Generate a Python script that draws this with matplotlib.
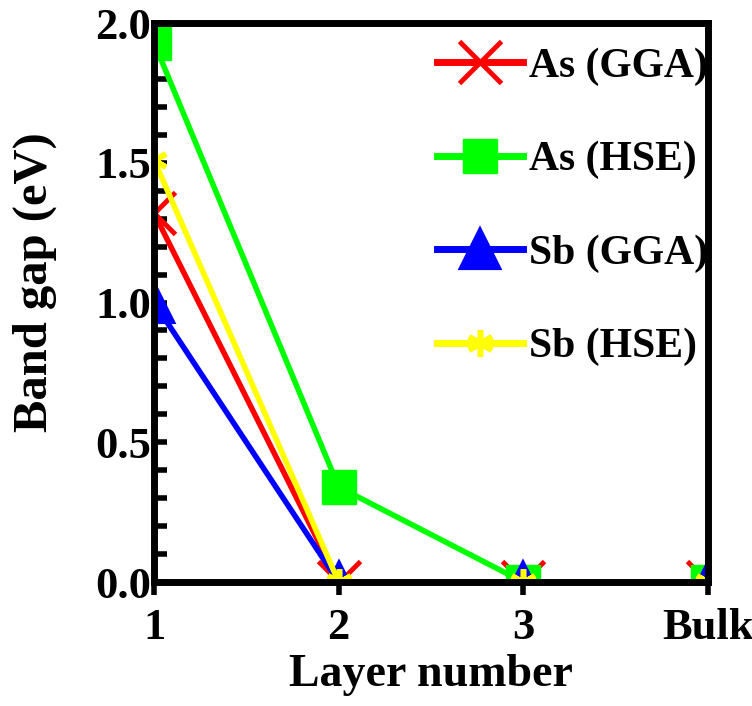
import numpy as np
import matplotlib
matplotlib.use("Agg")
import matplotlib.pyplot as plt
from matplotlib.ticker import MultipleLocator, FormatStrFormatter

# data
layers = [1, 2, 3, 4]
layer_labels = ["1", "2", "3", "Bulk"]
as_gga = [1.32, 0.0, 0.0, 0.0]
as_hse = [1.93, 0.34, 0.0, 0.0]
sb_gga = [1.0, 0.0, 0.0, 0.0]
sb_hse = [1.51, 0.0, 0.0, 0.0]

plt.rcParams["font.family"] = "Liberation Serif"
plt.rcParams["font.weight"] = "bold"

fig = plt.figure(figsize=(7.52, 7.06), dpi=100)
ax = fig.add_axes([0.2048, 0.1756, 0.7367, 0.7918])

lw = 4
ax.plot(layers, as_gga, color="#ff0000", lw=lw, marker="x", ms=30, mew=3.5, label="As (GGA)")
ax.plot(layers, as_hse, color="#00ff00", lw=lw, marker="s", ms=24, label="As (HSE)")
ax.plot(layers, sb_gga, color="#0000ff", lw=lw, marker="^", ms=28, mew=3,
        markeredgecolor="#0000ff", label="Sb (GGA)")
ax.plot(layers, sb_hse, color="#ffff00", lw=lw, marker=(6, 2, 0), ms=19, mew=4, label="Sb (HSE)")

ax.set_xlim(1, 4)
ax.set_ylim(0, 2.0)
ax.set_xticks(layers)
ax.set_xticklabels(layer_labels)
ax.yaxis.set_major_locator(MultipleLocator(0.5))
ax.yaxis.set_minor_locator(MultipleLocator(0.1))
ax.yaxis.set_major_formatter(FormatStrFormatter("%.1f"))

for s in ax.spines.values():
    s.set_linewidth(5)
ax.tick_params(axis="y", direction="in", length=9, width=4, labelsize=32, pad=2)
ax.tick_params(axis="y", which="minor", direction="in", length=9, width=4)
ax.tick_params(axis="x", direction="out", length=9, width=4, labelsize=32, pad=10)

ax.set_xlabel("Layer number", fontsize=33, fontweight="bold", labelpad=4)
ax.set_ylabel("Band gap (eV)", fontsize=35, fontweight="bold")
ax.yaxis.set_label_coords(-0.175, 0.537)

leg = ax.legend(loc="upper left", bbox_to_anchor=(0.489, 0.979), frameon=False,
                fontsize=30, handlelength=2.05, labelspacing=1.32,
                handletextpad=0.15, borderpad=0.3, borderaxespad=0)
for h in leg.legend_handles:
    h.set_linewidth(5)

fig.savefig("out.png", dpi=100)
